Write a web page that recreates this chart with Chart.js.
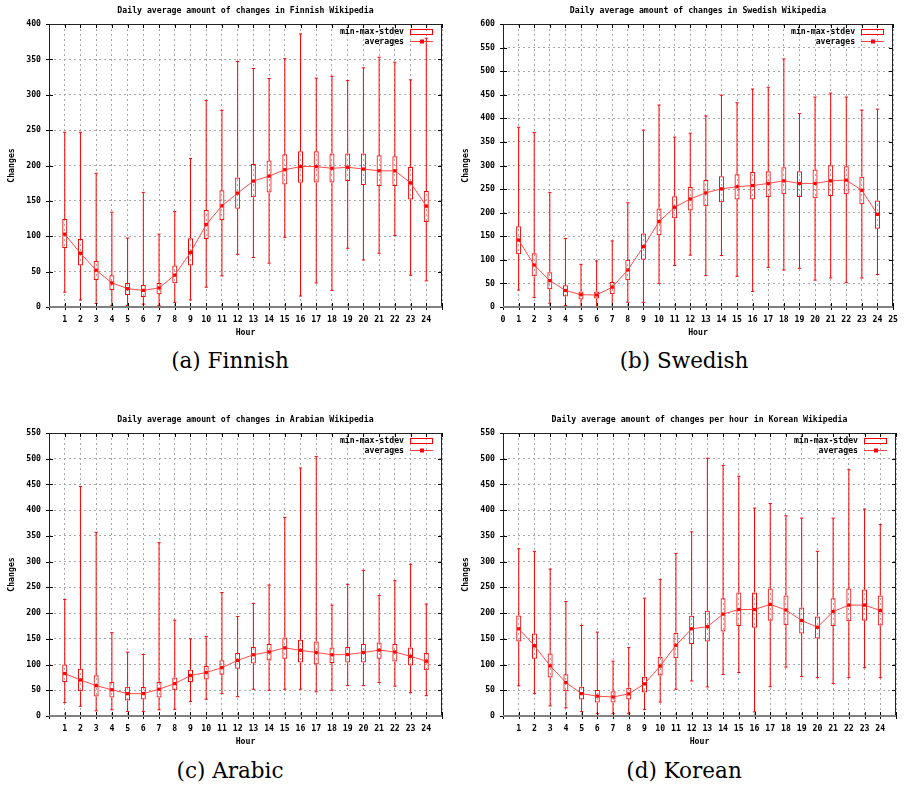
<!DOCTYPE html>
<html><head><meta charset="utf-8">
<script src="https://cdn.jsdelivr.net/npm/chart.js@4.4.1/dist/chart.umd.min.js"></script>
<style>
html,body{margin:0;padding:0;background:#fff}
body{width:905px;height:785px;position:relative;overflow:hidden}
canvas{position:absolute}
.cap{position:absolute;font-family:"DejaVu Serif",serif;font-size:21.5px;line-height:1;white-space:nowrap;transform:translateX(-50%);color:#000}
</style></head><body>
<canvas id="cA" width="452" height="345" style="left:0;top:0"></canvas>
<canvas id="cB" width="452" height="345" style="left:454px;top:0"></canvas>
<canvas id="cC" width="452" height="345" style="left:0;top:409px"></canvas>
<canvas id="cD" width="452" height="345" style="left:454px;top:409px"></canvas>
<div class="cap" style="left:230px;top:350px">(a) Finnish</div>
<div class="cap" style="left:684px;top:350px">(b) Swedish</div>
<div class="cap" style="left:230px;top:760px">(c) Arabic</div>
<div class="cap" style="left:684px;top:760px">(d) Korean</div>
<script>
const hours = [1,2,3,4,5,6,7,8,9,10,11,12,13,14,15,16,17,18,19,20,21,22,23,24];

// Finnish
const fiAvg = [103,76,52,34,26,23.5,27,45,77,116.5,143,161,178,185,194,198.5,198.5,196,197.5,195,192.5,192.5,175.5,142.5];
const fiLo  = [83.5,58.5,38,24,17,14,18,33.5,58.5,96,123,139,155,162,173,175.5,176,176,178,172.5,171,171,152,120];
const fiHi  = [124.5,96,65,45,34,31,34,58.5,97,137,165,183,202,207,216,220,220,217,217,217,214.5,213,198,164];
const fiMin = [21,10,5,2,2,4,2,6.5,10,28,44,74.5,70,62,98.5,15.5,34,23.5,83,66.5,76,101,45,37];
const fiMax = [247,247,189,134,97.5,162,103,135,210,292,278,347,337,323,351,386,323.5,326,320,338,353,346,321,380];

// Swedish
const svAvg = [142,89,56,35,26,25.5,42,78.5,128,181,211.5,229,242,250.5,255,257.5,262,267.5,262,262,267.5,269,247.5,196.5];
const svLo  = [112,65,37.5,22.5,16,18,27,56.5,100,152,188,204.5,213.5,222,228,228,233,239,233,230.5,235.5,239,218,166];
const svHi  = [171,114,73.5,46,33,33,53,100,156,209,235,254.5,269,277,281.5,286,288,296.5,288,291.5,300.5,298.5,276,226];
const svMin = [36,20,8,3,1,1,1,10,10,50,88,110,66.5,109,65,33,84,78.5,82,57,61.5,51.5,61.5,69];
const svMax = [381,370,243,145,90.5,97.5,140,221,375,428,360,368.5,405,449,433,462,466,526,410,445,453.5,445,417.5,419.5];

// Arabic
const arAvg = [82.5,70,59,51,43.5,43.5,52,63,78.5,84.5,94,108,119,124.5,132.5,127.5,123.5,119,119.5,123.5,128,124.5,116,106.5];
const arLo  = [66,48,38,36,30,32,36,50,66,71,80,92,102,108,111.5,104,100,103,104,104,111.5,106,98,89];
const arHi  = [100,92,79,66,57,56.5,66,75,90,97,108.5,122.5,134,140,152.5,148,145,133,134,140,143,140,133,122.5];
const arMin = [26,19,10,12,8.5,8.5,12,13,28,32.5,43.5,37.5,52,50,52,52,47,50,59,59,65,58,45.5,39.5];
const arMax = [226.5,446,357,162,124,119.5,337,186,150,154.5,240,193.5,219,254.5,386,482,504.5,215.5,256,283,234,263,295,217.5];

// Korean
const koAvg = [169.5,136.5,97.5,65,43.5,38.5,37,43,62.5,97,137.5,169.5,173.5,198,207,207,217,206,185.5,172.5,203,215.5,215.5,205];
const koLo  = [145,111.5,75,48,32,26,26,32,45.5,78.5,112,140,145,164,175,171.5,185,176.5,160.5,150.5,175,184,185,176];
const koHi  = [195.5,160.5,121.5,81,57,50.5,48,55,76.5,115,162,195,204.5,229,240,240,248,234,211,193.5,229,248,246,234];
const koMin = [58.5,43.5,19.5,16,8.5,4.5,4.5,4.5,12.5,27,52,68,56.5,80.5,84.5,8,57,95,76.5,74.5,63,74.5,94,74.5];
const koMax = [325,320,285.5,222.5,176,163,106.5,133,229,265.5,316,358,501,487,466,404,413,389,384.5,320,384.5,478.5,402,372];

const yTicksStep = 50;
const xMin = 0, xMax = 25;

const FONT = '"DejaVu Sans Mono", monospace';
const FSIZE = 8.2;
const RED = '#ff0000';

const decor = {
  id: 'decor',
  afterDraw(chart, args, opts) {
    const {ctx, chartArea: a, scales: {x, y}} = chart;
    ctx.save();
    ctx.strokeStyle = '#000';
    ctx.lineWidth = 1;
    ctx.beginPath();
    for (let v = xMin; v <= xMax; v++) {
      const px = Math.round(x.getPixelForValue(v)) + 0.5;
      ctx.moveTo(px, a.bottom - 4); ctx.lineTo(px, a.bottom + 3);
      ctx.moveTo(px, a.top); ctx.lineTo(px, a.top + 4);
    }
    for (let v = 0; v <= y.max; v += yTicksStep) {
      const py = Math.round(y.getPixelForValue(v)) + 0.5;
      ctx.moveTo(a.left - 3, py); ctx.lineTo(a.left + 4, py);
      ctx.moveTo(a.right, py); ctx.lineTo(a.right - 4, py);
    }
    ctx.stroke();
    ctx.strokeStyle = '#222';
    ctx.beginPath();
    const L = Math.round(a.left) + 0.5, R = Math.round(a.right) - 0.5, T = Math.round(a.top) + 0.5;
    const B = Math.round(a.bottom);
    ctx.moveTo(L, B); ctx.lineTo(L, T); ctx.lineTo(R, T); ctx.lineTo(R, B);
    ctx.stroke();
    ctx.strokeStyle = '#808080';
    ctx.lineWidth = 2;
    ctx.beginPath();
    ctx.moveTo(a.left, B); ctx.lineTo(a.right, B);
    ctx.stroke();

    ctx.fillStyle = '#000';
    ctx.font = 'bold ' + FSIZE + 'px ' + FONT;
    ctx.textBaseline = 'middle';
    ctx.textAlign = 'center';
    const cx = (a.left + a.right) / 2;
    ctx.fillText(opts.title, cx, a.top - 13.5);
    ctx.fillText('Hour', cx, a.bottom + 26);
    ctx.save();
    ctx.translate(12, (a.top + a.bottom) / 2);
    ctx.rotate(-Math.PI / 2);
    ctx.fillText('Changes', 0, 0);
    ctx.restore();

    const r = a.right, t = a.top;
    ctx.textAlign = 'right';
    ctx.fillText('min-max-stdev', r - 38, t + 8);
    ctx.fillText('averages', r - 38, t + 17.5);
    ctx.strokeStyle = RED;
    ctx.lineWidth = 1;
    ctx.strokeRect(Math.round(r - 32) + 0.5, Math.round(t + 5) + 0.5, 22, 5);
    ctx.strokeStyle = '#ff4040';
    ctx.beginPath();
    const ly = Math.round(t + 17) + 0.5;
    ctx.moveTo(Math.round(r - 32), ly); ctx.lineTo(Math.round(r - 9), ly);
    ctx.stroke();
    ctx.fillStyle = RED;
    ctx.fillRect(Math.round(r - 22.5), ly - 2, 4, 4);
    ctx.restore();
  }
};

function makeChart(id, title, yMax, showEnds, avg, lo, hi, mn, mx) {
  const pts = arr => hours.map((h, i) => ({x: h, y: arr[i]}));
  const rng = (a1, a2) => hours.map((h, i) => ({x: h, y: [a1[i], a2[i]]}));
  const gridCol = '#a8a8a8';
  new Chart(document.getElementById(id), {
    type: 'bar',
    data: {
      datasets: [
        {type: 'line', label: 'averages', data: pts(avg), borderColor: '#ff4a4a', borderWidth: 1,
         pointStyle: 'rect', pointRadius: 2.3, pointBackgroundColor: RED, pointBorderColor: RED,
         pointBorderWidth: 0, tension: 0, order: 0},
        {type: 'bar', label: 'box', data: rng(lo, hi), backgroundColor: 'rgba(0,0,0,0)',
         borderColor: RED, borderWidth: 1, borderSkipped: false, barThickness: 5, grouped: false,
         inflateAmount: 0, order: 1},
        {type: 'line', label: 'caps', data: pts(mn).concat(pts(mx)), showLine: false,
         pointStyle: 'line', pointRadius: 1.6, pointBorderColor: RED, pointBorderWidth: 1, order: 2},
        {type: 'bar', label: 'wlow', data: rng(mn, lo), backgroundColor: RED, borderWidth: 0,
         barThickness: 1, grouped: false, inflateAmount: 0, order: 3},
        {type: 'bar', label: 'whigh', data: rng(hi, mx), backgroundColor: RED, borderWidth: 0,
         barThickness: 1, grouped: false, inflateAmount: 0, order: 3}
      ]
    },
    options: {
      responsive: false,
      animation: false,
      devicePixelRatio: 1,
      layout: {padding: {top: 24, right: 10, left: 0, bottom: 0}},
      plugins: {legend: {display: false}, tooltip: {enabled: false}, decor: {title: title}},
      scales: {
        x: {
          type: 'linear', min: xMin, max: xMax, offset: false,
          grid: {color: gridCol, lineWidth: 1, drawTicks: false, offset: false},
          border: {display: false, dash: [2, 3]},
          ticks: {stepSize: 1, autoSkip: false, maxRotation: 0, minRotation: 0, maxTicksLimit: 100,
                  padding: 8, color: '#000', font: {family: FONT, size: FSIZE, weight: 'bold'},
                  callback: v => (showEnds || (v > xMin && v < xMax)) ? String(v) : ''},
          afterFit: s => { s.height = 38; }
        },
        y: {
          type: 'linear', min: 0, max: yMax,
          grid: {color: gridCol, lineWidth: 1, drawTicks: false},
          border: {display: false, dash: [2, 3]},
          ticks: {stepSize: yTicksStep, maxTicksLimit: 100, padding: 8, color: '#000',
                  font: {family: FONT, size: FSIZE, weight: 'bold'}},
          afterFit: s => { s.width = 49; }
        }
      }
    },
    plugins: [decor]
  });
}

makeChart('cA', 'Daily average amount of changes in Finnish Wikipedia', 400, false, fiAvg, fiLo, fiHi, fiMin, fiMax);
makeChart('cB', 'Daily average amount of changes in Swedish Wikipedia', 600, true, svAvg, svLo, svHi, svMin, svMax);
makeChart('cC', 'Daily average amount of changes in Arabian Wikipedia', 550, false, arAvg, arLo, arHi, arMin, arMax);
makeChart('cD', 'Daily average amount of changes per hour in Korean Wikipedia', 550, false, koAvg, koLo, koHi, koMin, koMax);
</script>
</body></html>
